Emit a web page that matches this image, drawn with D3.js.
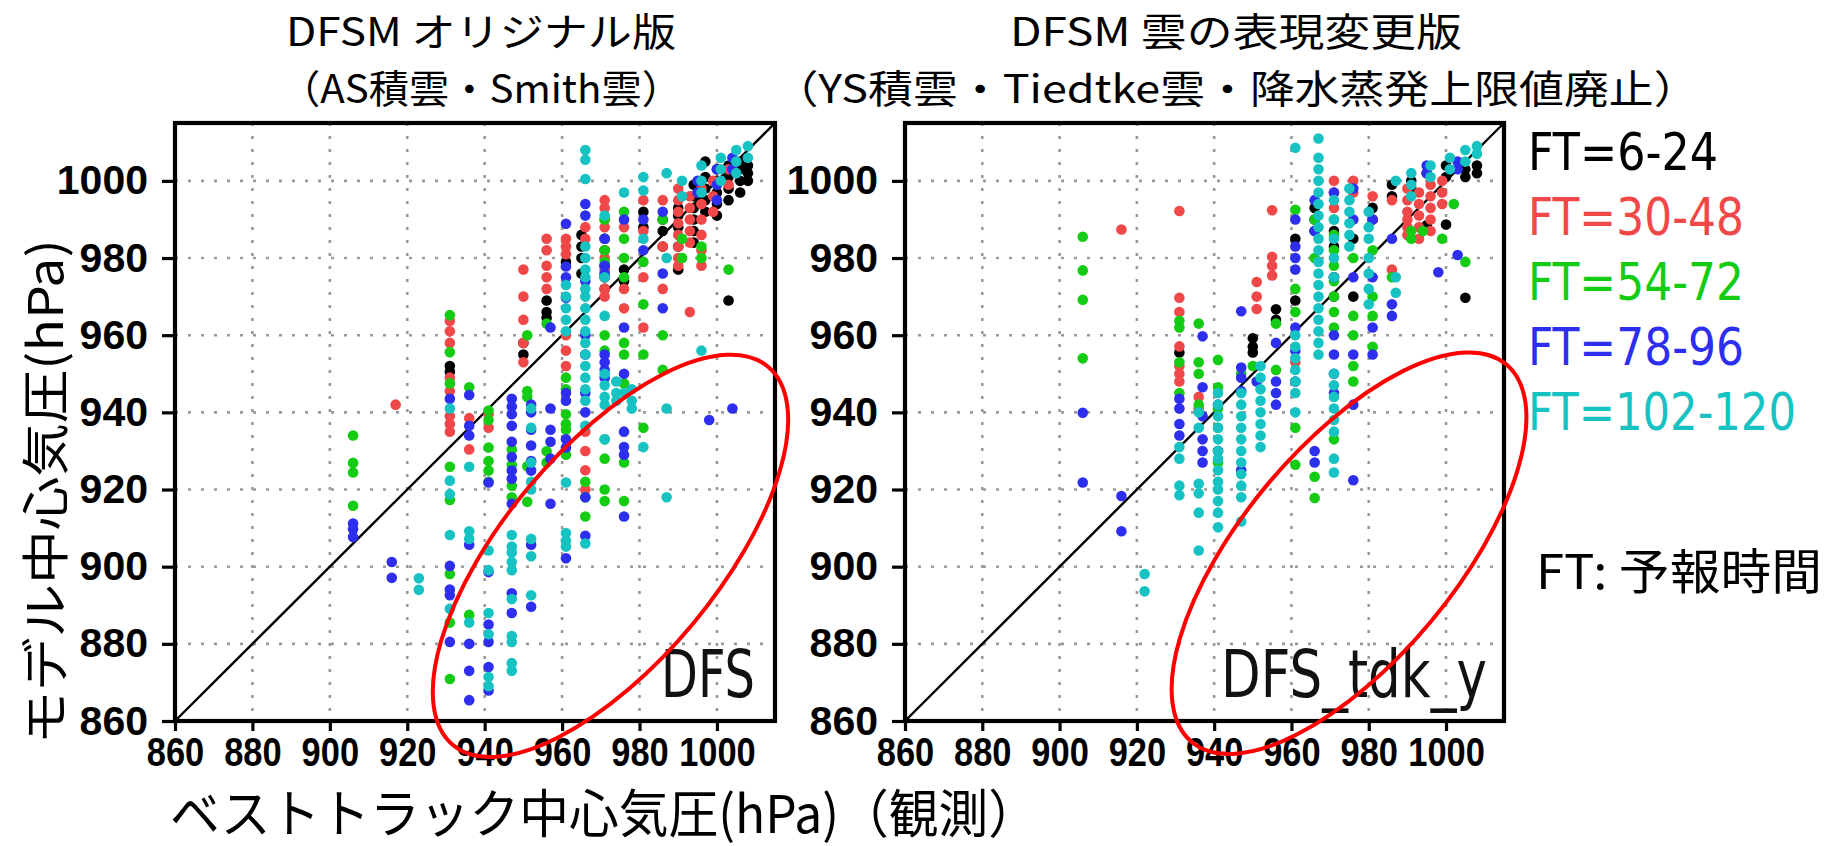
<!DOCTYPE html>
<html><head><meta charset="utf-8">
<script src="https://cdn.jsdelivr.net/npm/d3@7"></script>
<style>body{margin:0;background:#fff}svg{display:block}</style>
</head><body>
<svg id="c" width="1839" height="846"></svg>
<script>
// ---------------- data ----------------
const axisDomain = [860, 1015];
const axisTicks = [860, 880, 900, 920, 940, 960, 980, 1000];
const gridTicks = [880, 900, 920, 940, 960, 980, 1000];
const seriesLabels = ["FT=6-24", "FT=30-48", "FT=54-72", "FT=78-96", "FT=102-120"];
const panelLabels = ["DFS", "DFS_tdk_y"];
const titleLines = [["DFSM オリジナル版", "（AS積雲・Smith雲）"], ["DFSM 雲の表現変更版", "（YS積雲・Tiedtke雲・降水蒸発上限値廃止）"]];
const xTitle = "ベストトラック中心気圧(hPa)（観測）";
const yTitle = "モデル中心気圧(hPa)";
const noteText = "FT: 予報時間";
// highlighted regions [centre obs, centre model, semi-major hPa, semi-minor hPa, angle deg]
const highlight = [[972.5, 902.8, 63.6, 27.6, 50.2], [974.9, 903.5, 63.6, 27.6, 50.2]];

// each entry: [best-track pressure, [model pressures...]]
const dfsFT6_24 = [[931,[950.5,952]],[950,[958,955]],[956,[969,966,964.5]],[961,[979]],[965,[986,983,980,976]],[971,[985,982,978,975,972]],[976,[977,974]],[981,[992,988]],[986,[990,987,983]],[990,[993,991,988,983,977]],[994,[999,996,993,990,987,984]],[997,[1005,1001,998,995,992]],[1000,[1003,1000,997,994,991]],[1003,[1004,1001,998,995,969]],[1006,[1005,1003,1000,997]],[1008,[1004,1002,1000]]];
const dfsFT30_48 = [[917,[942]],[931,[963.7,961,958,949,945.5,939,937,935]],[936,[938.5,930.4]],[941,[939.5,936]],[950,[977,970,964,958,953]],[956,[985,982,978,975,972]],[961,[985,983,981,960,956,952]],[966,[988,985,935,930,925,920]],[971,[995,993,990,988,985,982,980,977,975,972,970]],[976,[988,972,967]],[981,[995,987,975,962]],[986,[995,983,972]],[990,[998,995,992,989,986,983,980,978]],[993,[996,993,990,987,984,966]],[996,[998,994,990,986,982,978]],[999,[1000,996,992]],[1003,[1003,999]]];
const dfsFT54_72 = [[906,[934,926.9,924.4,915.8]],[931,[965.2,955.6,947.5,925.9,917.3,898.1,885.5,870.9]],[936,[946.5,887.5]],[941,[940.5,938,930.9,927.4,924.9,922]],[947,[930.4,926.4,921,918]],[951,[960,945.5,944,926,916.8]],[956,[963,929.9,927]],[961,[949,946,939.5,937,935.5,929]],[966,[922,918,913]],[971,[990,985,982,979,976,960,956,933,928,920,917]],[976,[992,985,980,975,958,955,947.5,927,917]],[981,[979,968,955,936]],[986,[990,960,951]],[991,[985,980]],[996,[983,980]],[1003,[977]]];
const dfsFT78_96 = [[906,[911.2,909.7,907.7]],[916,[901.2,897.1]],[931,[943.5,900.2,894.1,892.6,880.5]],[936,[944.5,936.5,934,905.7,880,873,865.4]],[941,[921.8,898.6,885,880.5,874,867.9]],[947,[943.5,941.5,939.5,936.5,932.4,928.4,924.9,922.8,916.3,893.1,888]],[952,[942,940,935.5,931.4,927.4,924.9,905.7,889.6]],[957,[962,941,935.5,932.4,928,916.3]],[961,[988.9,977.8,975,969.7,945,943,933,930.9,902.2]],[966,[994,991,974,960,955,945,940,918,908]],[971,[985,978,976,955,953,951,949]],[976,[990,962,950,935,931,929,913]],[981,[990,982]],[986,[992,976,967]],[995,[1000,997]],[998,[938]],[1000,[1003,999,995]],[1004,[1006,1003,941]]];
const dfsFT102_120 = [[923,[897,894]],[931,[941,922.3,918.8,908.2,889.1]],[936,[925.9,909.2,907.2,885.5]],[941,[904.2,899.1,888,882.5,871.4,869]],[947,[908.2,905.2,903.7,901.2,899.1,891.6,882,880.5,875,873]],[952,[941,936,927,922,920,907.2,902.7,892.6]],[961,[973,970,967,964,961,921.8,908.7,906.7,905.2]],[966,[1008,1005.5,1000.5,983,980,977,975,972,970,967,964,961,958,955,952,949,946,943,936.5,906]],[971,[991,975,965,950,947,944,942,933]],[974,[948,945,943]],[976,[997,945]],[978,[946,943,941]],[981,[1001,997.5,985,931]],[987,[1002,980,941,918]],[991,[1000,996]],[996,[1004,1000,997,956]],[1001,[1006,1003,1000]],[1005,[1008,1005,1002]],[1008,[1009,1006]]];

const tdkFT6_24 = [[931,[955.5]],[950,[959.2,957,955.5]],[956,[966.7,964]],[961,[985,969]],[966,[993,990,987]],[971,[987,983,975,970]],[976,[985,970]],[981,[993,990]],[986,[999,996]],[991,[1000,998]],[995,[1002,988.5]],[1000,[1004,1001,988.7]],[1005,[1003,1001,969.7]],[1008,[1004,1002]]];
const tdkFT30_48 = [[916,[987.4]],[931,[992.2,969.7,966,957.1,952,950,948]],[936,[944,941]],[951,[973.8,970,966.8]],[955,[992.4,980.3,978,975.5]],[961,[953]],[971,[1000,997,993]],[976,[1000,997]],[981,[996,990]],[986,[995,977]],[990,[998,995,992,990,988,986]],[993,[997,994,991,988,985]],[996,[999,996,993,990,987]],[999,[1000,997,994]]];
const tdkFT54_72 = [[906,[985.5,976.8,969.2,954]],[931,[963.7,962,953,945]],[936,[963,953,950,942]],[941,[953.6,946.5,941,936,930,927]],[947,[950]],[950,[952]],[956,[963,951]],[961,[992.5,972,966,936,926.4]],[966,[990,980,923.3,917.8]],[971,[990,986,982,978,974,970,966,962,933]],[976,[980,965,960,952,948]],[981,[982,970,965,957]],[986,[975]],[991,[987,985]],[994,[987]],[999,[985]],[1002,[994]],[1005,[979]]];
const tdkFT78_96 = [[906,[939.9,921.8]],[916,[918.3,909.2]],[931,[943.5,941,937,934]],[937,[959.7,946.5,939,933,930,927]],[941,[942,930]],[947,[966.2,951.6,949,945.5,925]],[951,[948]],[956,[958,948,945,942]],[961,[990,983,980,977,962,956,948]],[966,[995,987,930,927]],[971,[997,975,960,955,950,945]],[976,[998,990,975,955,942,922.4]],[981,[990,975,962,955]],[986,[985,968,965]],[995,[1004,1002]],[998,[976.3]],[1003,[1005,1003,980.8]]];
const tdkFT102_120 = [[922,[898.1,893.6]],[931,[931,928,921,918.5]],[936,[940,936,921.5,919,914,904.2]],[941,[945,942,939,936,933,930,928,925,922,920,917,914,910.2]],[947,[945,942,939,936,933,930,927,924,921,918,911.7]],[952,[952,949,946,943,940,937,934,931]],[961,[1008.6,960,957,954,951,948,945,940]],[967,[1011,1006,1003,1000,997,994,991,988,985,982,979,976,973,970,967,964,961,958,955]],[971,[995,990,985,980,975,950,947,944,941,938,935,928,924.4]],[975,[998,995,992,989,986,983]],[980,[992,988,985,980,976,972,968]],[987,[1000,975,971]],[991,[1002,999,996]],[996,[1004,1001]],[1001,[1006,1003]],[1005,[1008,1005]],[1008,[1009,1007]]];

// ---------------- styles / layout ----------------
const seriesColors = ["#000000", "#f04848", "#14cc14", "#2e2eee", "#16c2c2"];
const legendWidths = [190, 216, 216, 216, 268];
const plotTop = 123, plotBottom = 721;
const panelBox = [{x0: 175, x1: 775, titleX: 481, tl: [390, 402], labelEnd: 755, labelW: 94},
                  {x0: 905, x1: 1504, titleX: 1236, tl: [452, 925], labelEnd: 1487, labelW: 266}];
const panelSeries = [[dfsFT6_24, dfsFT30_48, dfsFT54_72, dfsFT78_96, dfsFT102_120],
                     [tdkFT6_24, tdkFT30_48, tdkFT54_72, tdkFT78_96, tdkFT102_120]];
const CJK = "'Noto Sans CJK JP', 'Noto Sans', sans-serif";
const NUM = "'Liberation Sans', Arial, sans-serif";
const THIN = "'DejaVu Sans', sans-serif";

const svg = d3.select("#c");
svg.append("rect").attr("width", 1839).attr("height", 846).attr("fill", "#fff");

function condense(sel, f) {
  sel.each(function () {
    const L = this.getComputedTextLength();
    d3.select(this).attr("textLength", L * f).attr("lengthAdjust", "spacingAndGlyphs");
  });
}
// draw text at (x, y) horizontally squeezed to a given width with a transform
function squeezed(parent, x, y, width, anchorEnd) {
  const t = parent.append("text").attr("x", 0).attr("y", 0);
  return {
    text: t,
    fit() {
      const L = t.node().getComputedTextLength();
      const s = width / L;
      const tx = anchorEnd ? x - width : x;
      t.attr("transform", `translate(${tx},${y}) scale(${s},1)`);
      return t;
    }
  };
}

panelBox.forEach((p, pi) => {
  const x = d3.scaleLinear().domain(axisDomain).range([p.x0, p.x1]);
  const y = d3.scaleLinear().domain(axisDomain).range([plotBottom, plotTop]);
  const g = svg.append("g");

  // grid
  g.selectAll(".vg").data(gridTicks).join("line")
    .attr("x1", d => x(d)).attr("x2", d => x(d)).attr("y1", plotTop).attr("y2", plotBottom)
    .attr("stroke", "#9a9a9a").attr("stroke-width", 2.6).attr("stroke-dasharray", "3,10");
  g.selectAll(".hg").data(gridTicks).join("line")
    .attr("y1", d => y(d)).attr("y2", d => y(d)).attr("x1", p.x0).attr("x2", p.x1)
    .attr("stroke", "#9a9a9a").attr("stroke-width", 2.6).attr("stroke-dasharray", "3,10");

  // 1:1 line
  g.append("line")
    .attr("x1", x(axisDomain[0])).attr("y1", y(axisDomain[0]))
    .attr("x2", x(axisDomain[1])).attr("y2", y(axisDomain[1]))
    .attr("stroke", "#000").attr("stroke-width", 2.4);

  // points
  panelSeries[pi].forEach((s, si) => {
    const pts = s.flatMap(([bx, ys]) => ys.map(v => [bx, v]));
    g.append("g").selectAll("circle").data(pts).join("circle")
      .attr("cx", d => x(d[0])).attr("cy", d => y(d[1])).attr("r", 5.3)
      .attr("fill", seriesColors[si]);
  });

  // frame
  g.append("rect").attr("x", p.x0).attr("y", plotTop)
    .attr("width", p.x1 - p.x0).attr("height", plotBottom - plotTop)
    .attr("fill", "none").attr("stroke", "#000").attr("stroke-width", 4.2);

  // axes
  const ya = g.append("g").attr("transform", `translate(${p.x0},0)`)
    .call(d3.axisLeft(y).tickValues(axisTicks).tickSize(13).tickPadding(14).tickFormat(d3.format("d")));
  ya.select(".domain").remove();
  ya.selectAll("line").attr("stroke", "#000").attr("stroke-width", 3.2);
  ya.selectAll("text").attr("font-family", NUM).attr("font-weight", "bold").attr("font-size", 41).attr("fill", "#000");

  const xa = g.append("g").attr("transform", `translate(0,${plotBottom})`)
    .call(d3.axisBottom(x).tickValues(axisTicks).tickSize(10).tickPadding(6).tickFormat(d3.format("d")));
  xa.select(".domain").remove();
  xa.selectAll("line").attr("stroke", "#000").attr("stroke-width", 3.2);
  xa.selectAll("text").attr("font-family", NUM).attr("font-weight", "bold").attr("font-size", 41).attr("fill", "#000");
  condense(xa.selectAll("text"), 0.84);

  // panel label
  const lab = squeezed(g, p.labelEnd, 697, p.labelW, true);
  lab.text.attr("font-family", THIN).attr("font-size", 66).attr("fill", "#111").text(panelLabels[pi]);
  lab.fit();

  // highlight ellipse
  const h = highlight[pi];
  const cx = x(h[0]), cy = y(h[1]);
  g.append("ellipse").attr("cx", cx).attr("cy", cy)
    .attr("rx", x(h[0] + h[2]) - cx).attr("ry", x(h[0] + h[3]) - cx)
    .attr("transform", `rotate(${-h[4]},${cx},${cy})`)
    .attr("fill", "none").attr("stroke", "#ff0000").attr("stroke-width", 4);

  // titles
  titleLines[pi].forEach((t, li) => {
    svg.append("text").attr("x", p.titleX).attr("y", li === 0 ? 46 : 103).attr("text-anchor", "middle")
      .attr("font-family", CJK).attr("font-size", 39).attr("fill", "#000")
      .attr("textLength", p.tl[li]).attr("lengthAdjust", "spacingAndGlyphs").text(t);
  });
});

// legend
const leg = svg.append("g");
seriesLabels.forEach((t, i) => {
  const s = squeezed(leg, 1528, 170 + i * 65, legendWidths[i], false);
  s.text.attr("font-family", THIN).attr("font-size", 52).attr("fill", seriesColors[i]).text(t);
  s.fit();
});

// note
svg.append("text").attr("x", 1536).attr("y", 589).attr("font-family", CJK).attr("font-size", 48)
  .attr("fill", "#000").attr("textLength", 286).attr("lengthAdjust", "spacingAndGlyphs").text(noteText);

// axis titles
svg.append("text").attr("x", 170).attr("y", 810).attr("dominant-baseline", "central")
  .attr("font-family", CJK).attr("font-size", 52).attr("fill", "#000")
  .attr("textLength", 868).attr("lengthAdjust", "spacingAndGlyphs").text(xTitle);
svg.append("text").attr("transform", "translate(42,492) rotate(-90)").attr("text-anchor", "middle")
  .attr("dominant-baseline", "central").attr("font-family", CJK).attr("font-size", 48).attr("fill", "#000")
  .attr("textLength", 505).attr("lengthAdjust", "spacingAndGlyphs").text(yTitle);
</script>
</body></html>
